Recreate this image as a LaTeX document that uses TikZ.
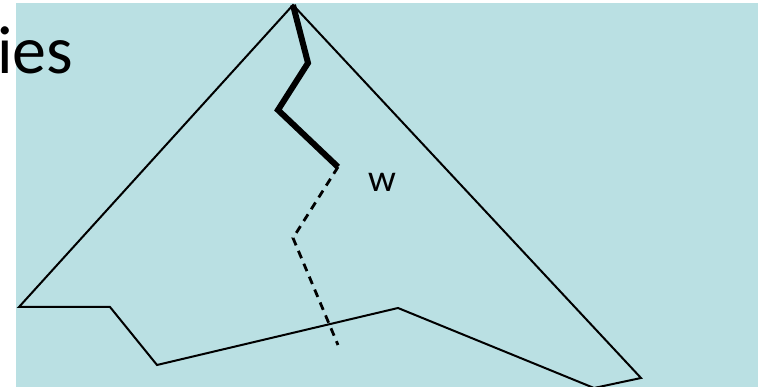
\documentclass[tikz,border=0pt]{standalone}
\usepackage{fontspec}
\setmainfont{Carlito}
\newfontfamily\wfont{Lato}
\definecolor{bgblue}{RGB}{186,224,227}
\begin{document}
\begin{tikzpicture}[x=1pt,y=1pt,
  outline/.style={draw=black,line width=2pt,line join=miter},
  thickpath/.style={draw=black,line width=6pt,line join=miter},
  dashpath/.style={draw=black,line width=2.8pt,dash pattern=on 8pt off 6pt}]
\useasboundingbox (0,0) rectangle (758,387);
\fill[bgblue] (16,0) rectangle (758,384);
\node[anchor=base west,inner sep=0pt,font=\fontsize{68}{72}\selectfont] (title) at (-3,313) {ies};
\coordinate (A) at (293,382);
\coordinate (L) at (19,80);
\coordinate (B1) at (110,80);
\coordinate (B2) at (157,22);
\coordinate (M) at (398,79);
\coordinate (Bt) at (594,-1);
\coordinate (R) at (641,9);
\draw[outline] (A) -- (L) -- (B1) -- (B2) -- (M) -- (Bt) -- (R) -- cycle;
\coordinate (P1) at (308,324);
\coordinate (P2) at (278,277);
\coordinate (P3) at (338,220);
\coordinate (P4) at (293,149);
\coordinate (P5) at (338,42);
\draw[thickpath] (A) -- (P1) -- (P2) -- (P3);
\draw[dashpath] (P3) -- (P4) -- (P5);
\node[font=\wfont\fontsize{36}{40}\selectfont,inner sep=0pt] (w) at (382,205) {w};
\end{tikzpicture}
\end{document}
